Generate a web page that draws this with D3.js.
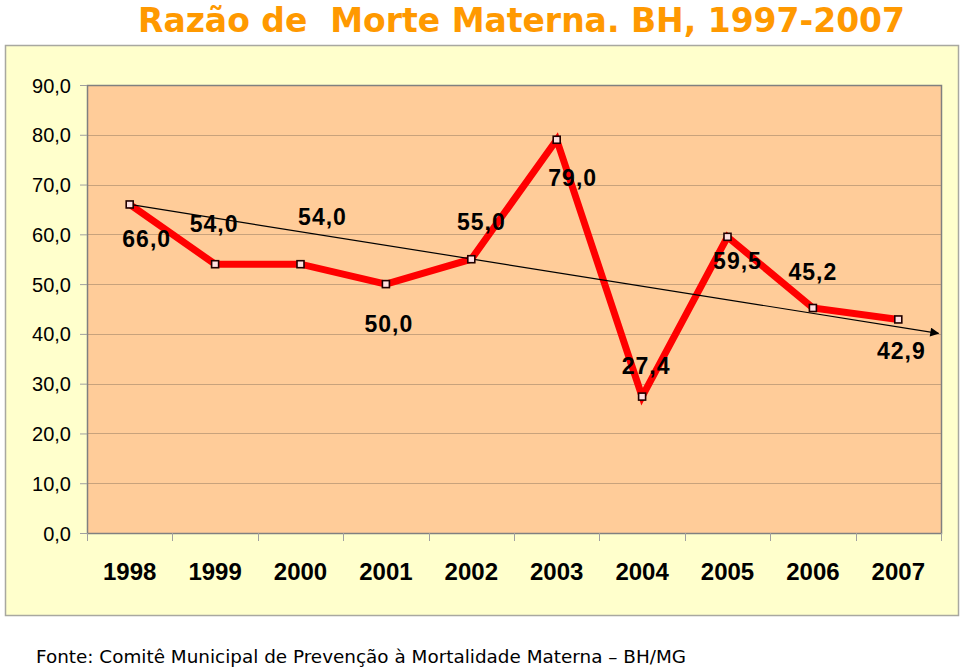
<!DOCTYPE html>
<html><head><meta charset="utf-8">
<script src="https://cdn.jsdelivr.net/npm/d3@7"></script>
<style>html,body{margin:0;padding:0;background:#fff;}svg{display:block;}</style>
</head><body>
<svg id="c" width="960" height="667"></svg>
<script>
const years = ["1998","1999","2000","2001","2002","2003","2004","2005","2006","2007"];
const values = [66.0, 54.0, 54.0, 50.0, 55.0, 79.0, 27.4, 59.5, 45.2, 42.9];
const labels = ["66,0","54,0","54,0","50,0","55,0","79,0","27,4","59,5","45,2","42,9"];
const yTicks = [0,10,20,30,40,50,60,70,80,90];
// trend arrow endpoints: [category index, value]
const trendFrom = [0, 66.0];
const trendTo = [9.47, 40.1];
const titleText = "Razão de  Morte Materna. BH, 1997-2007";
const sourceText = "Fonte: Comitê Municipal de Prevenção à Mortalidade Materna – BH/MG";

// layout (label offsets from the point, px)
const labelOffsets = [[17,34],[-1,-40],[22,-47],[3,40],[10,-38],[16,38],[4,-31],[10,24],[0,-36],[3,31]];

const svg = d3.select("#c");
const P = {left:87, right:941, top:85, bottom:533};

svg.append("rect").attr("x",5.5).attr("y",45.5).attr("width",953).attr("height",570)
  .attr("fill","#FFFFCC").attr("stroke","#A8A8A0").attr("stroke-width",1.5);

svg.append("text").attr("x",138).attr("y",32)
  .attr("font-family","DejaVu Sans").attr("font-weight","bold").attr("font-size",33)
  .attr("fill","#FF9900").attr("textLength",767).attr("lengthAdjust","spacingAndGlyphs")
  .attr("xml:space","preserve").style("white-space","pre").text(titleText);

svg.append("text").attr("x",36).attr("y",663)
  .attr("font-family","DejaVu Sans").attr("font-size",18)
  .attr("fill","#000").attr("textLength",650).attr("lengthAdjust","spacingAndGlyphs")
  .text(sourceText);

const x = d3.scaleBand().domain(years).range([P.left,P.right]).padding(0);
const y = d3.scaleLinear().domain([0,90]).range([P.bottom,P.top]);
const xc = d => x(d) + x.bandwidth()/2;
const xi = d3.scaleLinear().domain([0,years.length-1]).range([xc(years[0]), xc(years[years.length-1])]);

svg.append("rect").attr("x",P.left).attr("y",P.top).attr("width",P.right-P.left).attr("height",P.bottom-P.top)
  .attr("fill","#FFCC99");

// gridlines
svg.append("g").selectAll("line").data(yTicks.filter(t=>t>0 && t<90)).join("line")
  .attr("x1",P.left).attr("x2",P.right).attr("y1",d=>Math.round(y(d))+0.5).attr("y2",d=>Math.round(y(d))+0.5)
  .attr("stroke","#C8A27C").attr("stroke-width",1);

svg.append("rect").attr("x",P.left+0.5).attr("y",P.top+0.5).attr("width",P.right-P.left).attr("height",P.bottom-P.top)
  .attr("fill","none").attr("stroke","#808080").attr("stroke-width",1.5);

// y axis
const yAxis = d3.axisLeft(y).tickValues(yTicks).tickSize(7).tickFormat(d=>d3.format(".1f")(d).replace(".",","));
const gy = svg.append("g").attr("transform",`translate(${P.left},0)`).call(yAxis);
gy.select(".domain").attr("stroke","#808080");
gy.selectAll(".tick line").attr("stroke","#A0A0A0");
gy.selectAll("text").attr("font-family","Liberation Sans, Arial").attr("font-size",20).attr("fill","#000").attr("x",-16).attr("dy","0.35em");

// x axis
const xAxis = d3.axisBottom(x).tickSize(0).tickPadding(22);
const gx = svg.append("g").attr("transform",`translate(0,${P.bottom})`).call(xAxis);
gx.select(".domain").attr("stroke","#808080");
gx.selectAll("text").attr("font-family","Liberation Sans, Arial").attr("font-weight","bold").attr("font-size",24).attr("fill","#000").attr("dy","1.05em");
// category boundary ticks
svg.append("g").selectAll("line").data(years.map(d=>x(d)).concat([P.right])).join("line")
  .attr("x1",d=>Math.round(d)+0.5).attr("x2",d=>Math.round(d)+0.5).attr("y1",P.bottom).attr("y2",P.bottom+8)
  .attr("stroke","#A0A0A0");

// data line
const line = d3.line().x((d,i)=>xc(years[i])).y(d=>y(d));
svg.append("path").datum(values).attr("d",line).attr("fill","none")
  .attr("stroke","#FF0000").attr("stroke-width",7).attr("stroke-linejoin","miter");

// trend arrow
const defs = svg.append("defs");
defs.append("marker").attr("id","arr").attr("viewBox","0 0 10 10").attr("refX",9).attr("refY",5)
  .attr("markerWidth",11).attr("markerHeight",9).attr("markerUnits","userSpaceOnUse").attr("orient","auto")
  .append("path").attr("d","M0,0 L10,5 L0,10 Z").attr("fill","#000");
svg.append("line").attr("x1",xi(trendFrom[0])).attr("y1",y(trendFrom[1]))
  .attr("x2",xi(trendTo[0])).attr("y2",y(trendTo[1]))
  .attr("stroke","#000").attr("stroke-width",1.2).attr("marker-end","url(#arr)");

// markers
svg.append("g").selectAll("rect").data(values).join("rect")
  .attr("x",(d,i)=>xc(years[i])-3.5).attr("y",d=>y(d)-3.5).attr("width",7).attr("height",7)
  .attr("fill","#FFE0E0").attr("stroke","#200000").attr("stroke-width",1.6);

// data labels
svg.append("g").selectAll("text").data(values).join("text")
  .attr("x",(d,i)=>xc(years[i])+labelOffsets[i][0])
  .attr("y",(d,i)=>y(d)+labelOffsets[i][1])
  .attr("dy","0.36em").attr("text-anchor","middle")
  .attr("font-family","Liberation Sans, Arial").attr("font-weight","bold").attr("font-size",23)
  .attr("letter-spacing",1).attr("fill","#000")
  .text((d,i)=>labels[i]);
</script>
</body></html>
